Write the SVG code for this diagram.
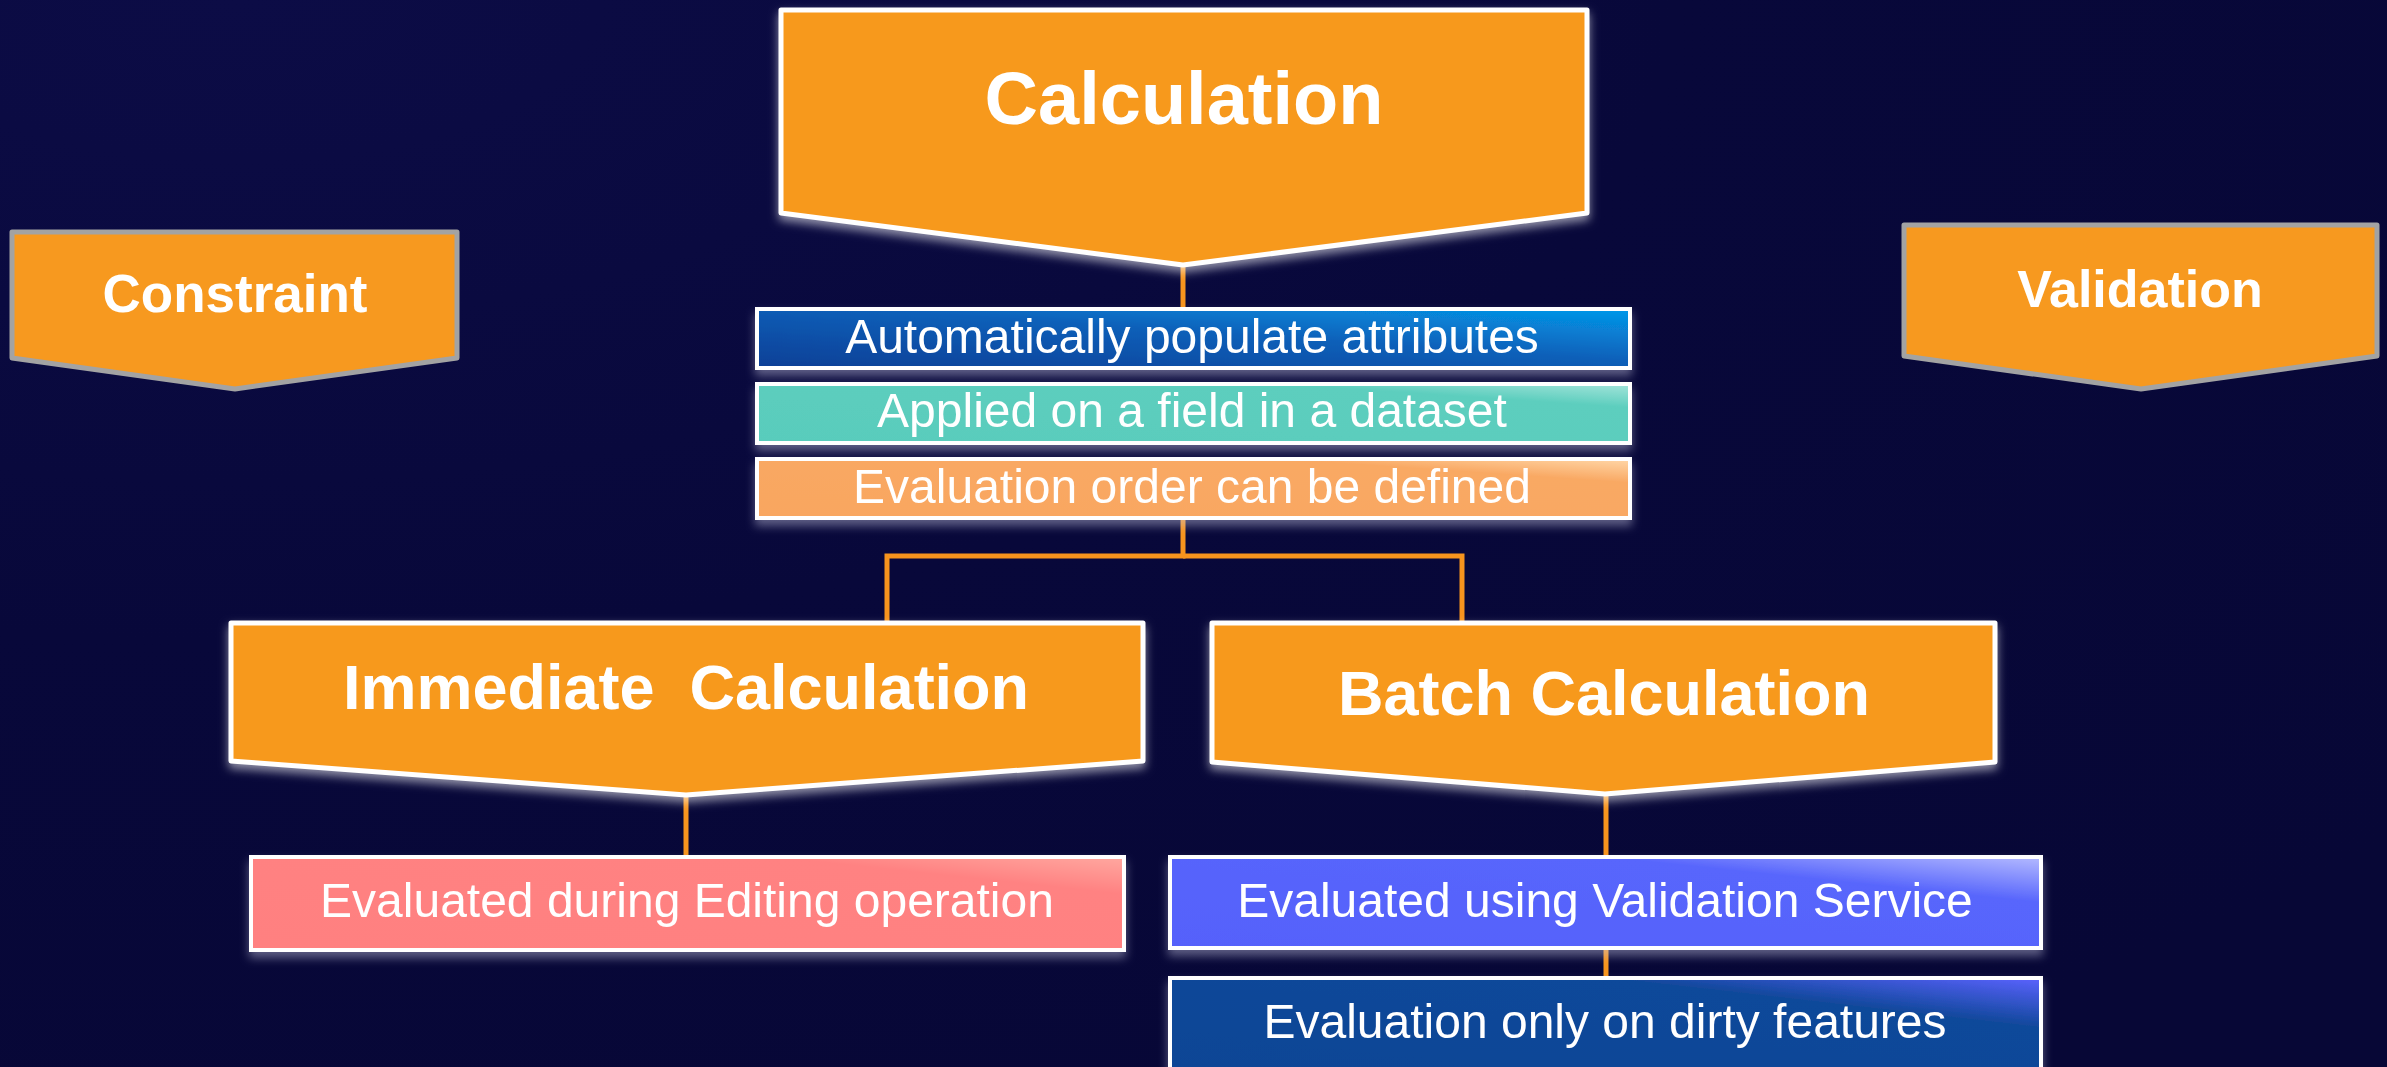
<svg xmlns="http://www.w3.org/2000/svg" width="2387" height="1067" viewBox="0 0 2387 1067">
<defs>
<radialGradient id="bg" cx="0.1" cy="0" r="1.2">
<stop offset="0" stop-color="#0c0c46"/>
<stop offset="0.5" stop-color="#08083a"/>
<stop offset="1" stop-color="#070736"/>
</radialGradient>
<filter id="glow" x="-10%" y="-20%" width="120%" height="150%">
<feDropShadow dx="0" dy="5" stdDeviation="5" flood-color="#ffffff" flood-opacity="0.55"/>
</filter>
<filter id="shadow" x="-10%" y="-30%" width="120%" height="180%">
<feDropShadow dx="0" dy="6" stdDeviation="5" flood-color="#c8c8e0" flood-opacity="0.45"/>
</filter>
<linearGradient id="g1" x1="0" y1="1" x2="1" y2="0">
<stop offset="0" stop-color="#0d3f96"/>
<stop offset="0.55" stop-color="#0b5fb8"/>
<stop offset="1" stop-color="#0499ea"/>
</linearGradient>
<linearGradient id="g2" x1="0" y1="1" x2="1" y2="0">
<stop offset="0" stop-color="#59ccbc"/>
<stop offset="0.8" stop-color="#5dcebe"/>
<stop offset="1" stop-color="#a3e4da"/>
</linearGradient>
<linearGradient id="g3" x1="0" y1="1" x2="1" y2="0">
<stop offset="0" stop-color="#f9a660"/>
<stop offset="0.8" stop-color="#f9a964"/>
<stop offset="1" stop-color="#ffd7a8"/>
</linearGradient>
<linearGradient id="g4" x1="0" y1="1" x2="1" y2="0">
<stop offset="0" stop-color="#ff8080"/>
<stop offset="0.8" stop-color="#ff8282"/>
<stop offset="1" stop-color="#ffa8a0"/>
</linearGradient>
<linearGradient id="g5" x1="0" y1="1" x2="1" y2="0">
<stop offset="0" stop-color="#5561fb"/>
<stop offset="0.75" stop-color="#5866fc"/>
<stop offset="1" stop-color="#b4baff"/>
</linearGradient>
<linearGradient id="g6" x1="0" y1="1" x2="1" y2="0">
<stop offset="0" stop-color="#0e4595"/>
<stop offset="0.75" stop-color="#10489a"/>
<stop offset="1" stop-color="#5b62ff"/>
</linearGradient>
<style>
.big{fill:#f7991f;stroke:#ffffff;stroke-width:5;stroke-linejoin:round}
.side{fill:#f7991f;stroke:#a3a3a3;stroke-width:5;stroke-linejoin:round}
.box{stroke:#ffffff;stroke-width:4}
.tb{font-family:"Liberation Sans",Arial,sans-serif;font-weight:bold;fill:#ffffff;text-anchor:middle}
.tr{font-family:"Liberation Sans",Arial,sans-serif;font-size:48px;fill:#ffffff;text-anchor:middle}
.conn{stroke:#f7941d;stroke-width:5;fill:none}
</style>
</defs>
<rect width="2387" height="1067" fill="url(#bg)"/>
<g id="connectors">
<line class="conn" x1="1183" y1="265" x2="1183" y2="309"/>
<polyline class="conn" points="1183,518 1183,556 887,556 887,623"/>
<polyline class="conn" points="1183,556 1462,556 1462,623"/>
<line class="conn" x1="686" y1="795" x2="686" y2="857"/>
<line class="conn" x1="1606" y1="794" x2="1606" y2="857"/>
<line class="conn" x1="1606" y1="948" x2="1606" y2="978"/>
</g>
<g id="constraint">
<polygon class="side" points="12,232 457,232 457,358 235,389 12,358"/>
<text class="tb" x="235" y="312" font-size="53">Constraint</text>
</g>
<g id="validation">
<polygon class="side" points="1904,225 2377,225 2377,356 2141,389 1904,356"/>
<text class="tb" x="2140" y="307" font-size="52">Validation</text>
</g>
<g id="calculation" filter="url(#glow)">
<polygon class="big" points="781,10 1587,10 1587,213 1183,265 781,213"/>
<text class="tb" x="1184" y="124" font-size="74">Calculation</text>
</g>
<g id="populate" filter="url(#shadow)">
<rect class="box" x="757" y="309" width="873" height="59" fill="url(#g1)"/>
<text class="tr" x="1192" y="353">Automatically populate attributes</text>
</g>
<g id="applied" filter="url(#shadow)">
<rect class="box" x="757" y="384" width="873" height="59" fill="url(#g2)"/>
<text class="tr" x="1192" y="427">Applied on a field in a dataset</text>
</g>
<g id="order" filter="url(#shadow)">
<rect class="box" x="757" y="459" width="873" height="59" fill="url(#g3)"/>
<text class="tr" x="1192" y="503">Evaluation order can be defined</text>
</g>
<g id="immediate" filter="url(#glow)">
<polygon class="big" points="231,623 1143,623 1143,761 686,795 231,761"/>
<text class="tb" x="686" y="709" font-size="63" xml:space="preserve">Immediate  Calculation</text>
</g>
<g id="batch" filter="url(#glow)">
<polygon class="big" points="1212,623 1995,623 1995,762 1605,794 1212,762"/>
<text class="tb" x="1604" y="715" font-size="63">Batch Calculation</text>
</g>
<g id="editing" filter="url(#shadow)">
<rect class="box" x="251" y="857" width="873" height="93" fill="url(#g4)"/>
<text class="tr" x="687" y="917">Evaluated during Editing operation</text>
</g>
<g id="service" filter="url(#shadow)">
<rect class="box" x="1170" y="857" width="871" height="91" fill="url(#g5)"/>
<text class="tr" x="1605" y="917">Evaluated using Validation Service</text>
</g>
<g id="dirty" filter="url(#shadow)">
<rect class="box" x="1170" y="978" width="871" height="100" fill="url(#g6)"/>
<text class="tr" x="1605" y="1038">Evaluation only on dirty features</text>
</g>
</svg>
